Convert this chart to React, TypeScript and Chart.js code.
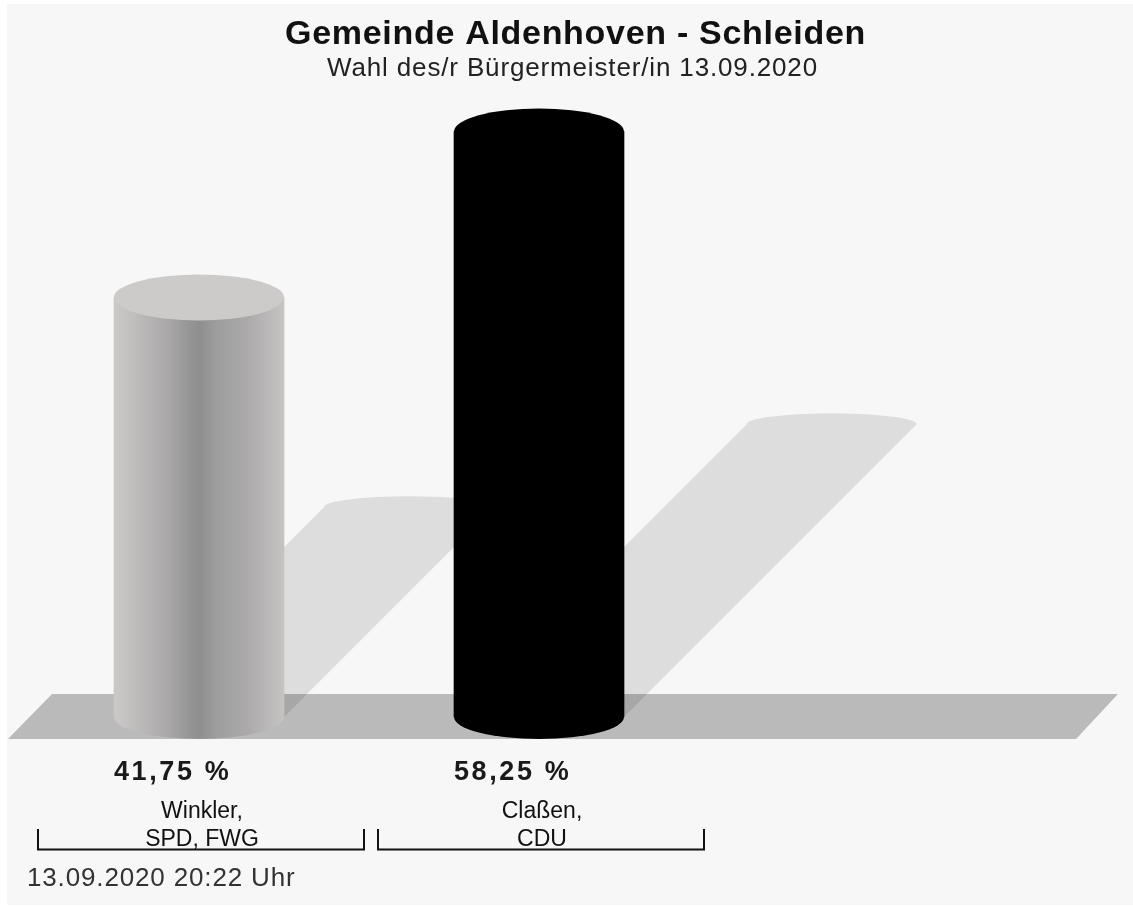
import React, { useEffect, useRef } from "react";
import { Chart, registerables } from "chart.js";

Chart.register(...registerables);

const candidates = [["Winkler,", "SPD, FWG"], ["Claßen,", "CDU"]];
const shares = [41.75, 58.25];
const shareLabels = ["41,75 %", "58,25 %"];
const titleText = "Gemeinde Aldenhoven - Schleiden";
const subtitleText = "Wahl des/r Bürgermeister/in 13.09.2020";
const stampText = "13.09.2020 20:22 Uhr";
const sideStops = [
  [[0, "#cbc8c8"], [0.1, "#c2bfbf"], [0.32, "#a9a7a7"], [0.5, "#8f8e8e"], [0.6, "#9e9d9d"], [0.78, "#aba9a9"], [1, "#c5c4c3"]],
  [[0, "#000000"], [1, "#000000"]],
];
const capColors = ["#cdcaca", "#000000"];

const FONT = '"Liberation Sans", Arial, sans-serif';
const CAP_RY = 22;
const BAR_WIDTH = 170;

function sideGradient(ctx: CanvasRenderingContext2D, cx: number, i: number) {
  if (!Number.isFinite(cx)) return capColors[i] as any;
  const g = ctx.createLinearGradient(cx - BAR_WIDTH / 2, 0, cx + BAR_WIDTH / 2, 0);
  sideStops[i].forEach(([o, c]: any) => g.addColorStop(o, c));
  return g;
}

const cylinderPlugin = {
  id: "cylinder",
  beforeDraw(chart: any) {
    const { ctx } = chart;
    ctx.save();
    ctx.fillStyle = "#f7f7f7";
    ctx.fillRect(7, 4, chart.width - 7, chart.height - 5);
    ctx.restore();
  },
  beforeDatasetsDraw(chart: any) {
    const { ctx, chartArea } = chart;
    const base = chartArea.bottom;
    ctx.save();
    // floor
    ctx.fillStyle = "#bababa";
    ctx.beginPath();
    ctx.moveTo(8, base + CAP_RY);
    ctx.lineTo(1076, base + CAP_RY);
    ctx.lineTo(1118, base - 23);
    ctx.lineTo(52, base - 23);
    ctx.closePath();
    ctx.fill();
    // cast shadows, sheared from each bar
    ctx.fillStyle = "rgba(0,0,0,0.1)";
    chart.getDatasetMeta(0).data.forEach((el: any) => {
      const l = el.x - el.width / 2;
      const r = el.x + el.width / 2;
      const off = (base - el.y) / 2;
      ctx.beginPath();
      ctx.moveTo(l, base);
      ctx.lineTo(l + off, base - off);
      ctx.ellipse(el.x + off, base - off, el.width / 2, CAP_RY / 2, 0, Math.PI, 2 * Math.PI);
      ctx.lineTo(r, base);
      ctx.closePath();
      ctx.fill();
    });
    ctx.restore();
  },
  afterDatasetsDraw(chart: any) {
    const { ctx, chartArea, scales } = chart;
    const base = chartArea.bottom;
    ctx.save();
    chart.getDatasetMeta(0).data.forEach((el: any, i: number) => {
      // lower cap
      ctx.fillStyle = sideGradient(ctx, el.x, i);
      ctx.beginPath();
      ctx.ellipse(el.x, base, el.width / 2, CAP_RY, 0, 0, Math.PI);
      ctx.fill();
      // upper cap
      ctx.fillStyle = capColors[i];
      ctx.beginPath();
      ctx.ellipse(el.x, el.y, el.width / 2, CAP_RY + 1, 0, 0, 2 * Math.PI);
      ctx.fill();
      // share label, starts at the bar's left edge
      ctx.fillStyle = "#1a1a1a";
      ctx.font = `bold 27px ${FONT}`;
      (ctx as any).letterSpacing = "2.6px";
      ctx.textAlign = "left";
      ctx.textBaseline = "middle";
      ctx.fillText(shareLabels[i], el.x - el.width / 2, 773);
      // bracket
      (ctx as any).letterSpacing = "0px";
      const c = scales.x.getPixelForValue(i) + 2;
      ctx.strokeStyle = "#111111";
      ctx.lineWidth = 2;
      ctx.beginPath();
      ctx.moveTo(c - 163, 829);
      ctx.lineTo(c - 163, 849.5);
      ctx.lineTo(c + 163, 849.5);
      ctx.lineTo(c + 163, 829);
      ctx.stroke();
    });
    ctx.textBaseline = "middle";
    ctx.textAlign = "center";
    ctx.fillStyle = "#111111";
    ctx.font = `bold 34px ${FONT}`;
    (ctx as any).letterSpacing = "0.7px";
    ctx.fillText(titleText, 575.5, 35);
    ctx.font = `26px ${FONT}`;
    (ctx as any).letterSpacing = "0.85px";
    ctx.fillStyle = "#222222";
    ctx.fillText(subtitleText, 572.5, 69);
    ctx.textAlign = "left";
    ctx.fillStyle = "#333333";
    ctx.font = `26px ${FONT}`;
    ctx.fillText(stampText, 27, 879);
    ctx.restore();
  },
};

export default function App() {
  const ref = useRef<HTMLCanvasElement>(null);
  useEffect(() => {
    const chart = new Chart(ref.current as HTMLCanvasElement, {
      type: "bar",
      plugins: [cylinderPlugin],
      data: {
        labels: candidates as any,
        datasets: [
          {
            data: shares,
            barThickness: BAR_WIDTH,
            borderWidth: 0,
            backgroundColor: (c: any) =>
              sideGradient(c.chart.ctx, c.chart.scales.x.getPixelForValue(c.dataIndex), c.dataIndex),
          },
        ],
      },
      options: {
        responsive: false,
        animation: false,
        devicePixelRatio: 1,
        layout: { padding: { left: 29, right: 424, top: 114, bottom: 0 } },
        plugins: { legend: { display: false }, tooltip: { enabled: false }, title: { display: false } },
        scales: {
          x: {
            grid: { display: false },
            border: { display: false },
            afterFit: (s: any) => {
              s.height = 189;
            },
            ticks: {
              padding: 73,
              labelOffset: 3,
              maxRotation: 0,
              autoSkip: false,
              color: "#111111",
              font: { family: "Liberation Sans", size: 23, lineHeight: 1.22 },
            },
          },
          y: { display: false, min: 0, max: 60 },
        },
      } as any,
    });
    return () => chart.destroy();
  }, []);
  return (
    <div style={{ position: "absolute", left: 0, top: 0 }}>
      <canvas ref={ref} width={1133} height={906} style={{ display: "block", filter: "blur(0.6px)" }} />
    </div>
  );
}
